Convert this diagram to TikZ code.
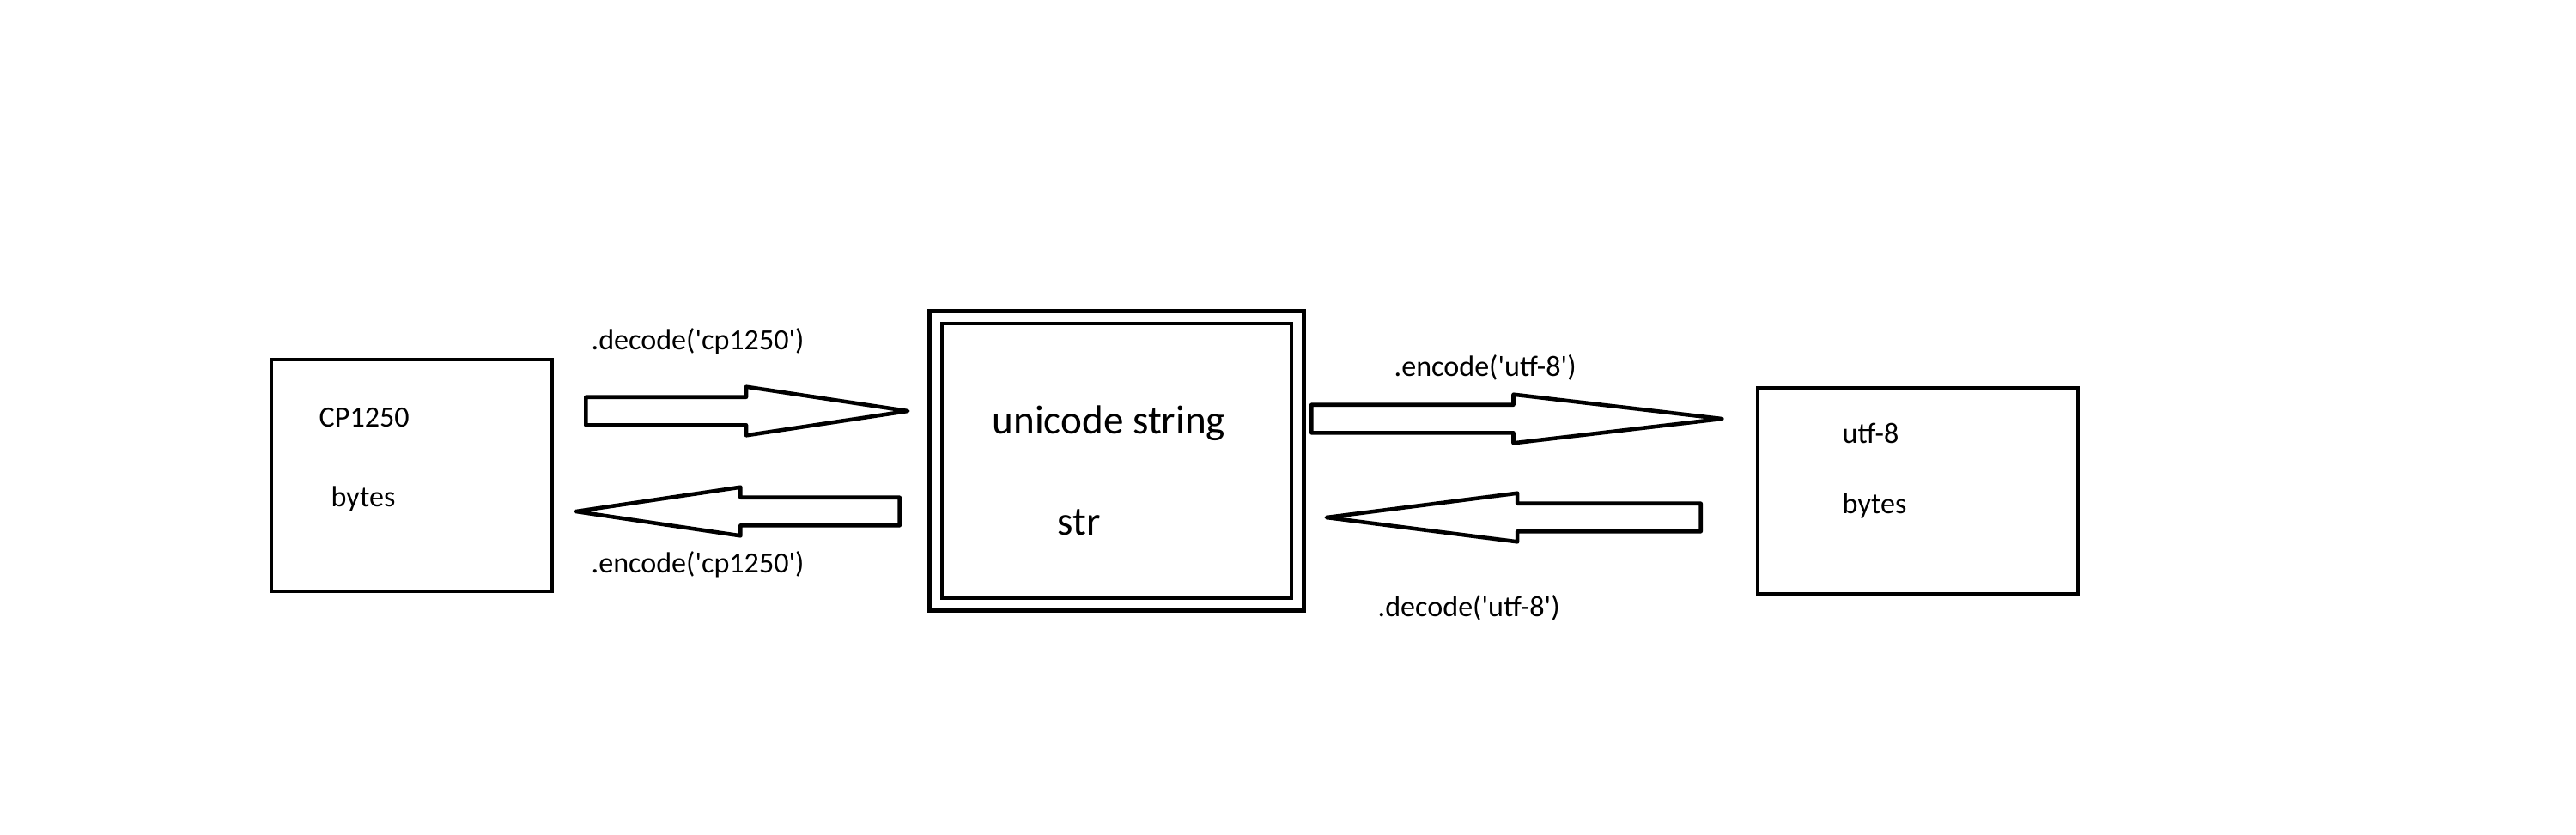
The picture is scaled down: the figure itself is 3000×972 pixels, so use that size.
\documentclass[tikz,border=0pt]{standalone}
\usepackage{fontspec}
\setmainfont{Carlito}[Ligatures=TeXOff]
\usetikzlibrary{shapes.arrows}

\begin{document}
\begin{tikzpicture}[x=0.01cm, y=-0.01cm,
	box/.style={draw=black, line width=1.3pt, rectangle, inner sep=0pt},
	smalltext/.style={inner sep=0pt, anchor=base west, font=\fontsize{9.7}{12}\selectfont},
	bigtext/.style={inner sep=0pt, anchor=base west, font=\fontsize{13.4}{16}\selectfont},
	fatarrow/.style={draw=black, line width=1.3pt, line join=round, single arrow, inner xsep=0pt, inner ysep=0.14cm, single arrow head extend=0.12cm, anchor=tail}]

	\useasboundingbox (0,0) rectangle (3000,972);	% canvas, one unit is one pixel

	% the three boxes
	\node[box, minimum width=3.27cm, minimum height=2.70cm] (cpbox) at (479.5,554) {};
	\node[box, double, double distance=0.10cm, minimum width=4.21cm, minimum height=3.34cm] (strbox) at (1300.5,537) {};
	\node[box, minimum width=3.73cm, minimum height=2.40cm] (utfbox) at (2233.5,572) {};

	% what the boxes hold
	\node[smalltext] (cpname) at (371,497) {CP1250};
	\node[smalltext] (cpbytes) at (385,590) {bytes};
	\node[bigtext] (strname) at (1155,505) {unicode string};
	\node[bigtext] (strtype) at (1231,623) {str};
	\node[smalltext] (utfname) at (2145,516) {utf-8};
	\node[smalltext] (utfbytes) at (2145,598) {bytes};

	% the four fat arrows: name/tail x/y/length/tip angle/turn
	\foreach \name/\tailx/\taily/\len/\tipangle/\turn in {dec1250/680/479/375/17.1/0, enc1250/1050/596/377/16.8/180, encutf/1525/488/478/13.3/0, decutf/1983/603/436/14.5/180}{
		\node[fatarrow, minimum height=0.01cm*\len, single arrow tip angle=\tipangle, shape border rotate=\turn] (\name) at (\tailx,\taily) {};
	}

	% method calls on the arrows
	\node[smalltext] (dec1250text) at (688,407) {.decode('cp1250')};
	\node[smalltext] (enc1250text) at (688,667) {.encode('cp1250')};
	\node[smalltext] (encutftext) at (1623,438) {.encode('utf-8')};
	\node[smalltext] (decutftext) at (1604,718) {.decode('utf-8')};

\end{tikzpicture}
\end{document}
